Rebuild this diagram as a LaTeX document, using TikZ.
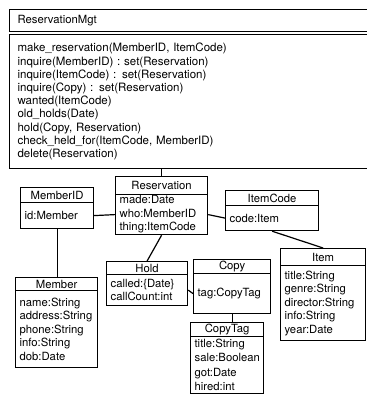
\documentclass[tikz,border=0pt]{standalone}
\usepackage{fontspec}
\setmainfont{TeX Gyre Heros}
\usetikzlibrary{positioning}

\begin{document}
\begin{tikzpicture}[x=1pt, y=-1pt,
    hd/.style={draw, line width=1.2pt, anchor=north west, inner ysep=0pt, inner xsep=0pt,
        font=\fontsize{11.3}{12}\selectfont},
    bd/.style={draw, line width=1.2pt, anchor=north west, inner ysep=0pt, inner xsep=4pt,
        align=left, font=\fontsize{11.3}{13.5}\selectfont},
    link/.style={line width=1.2pt}]

\useasboundingbox (0,0) rectangle (366,395);

% Interface class at the top
\node[hd, inner xsep=8pt, text width=343pt, align=left, minimum height=22pt] (mgtH) at (9,9) {ReservationMgt};
\node[bd, inner xsep=8pt, text width=343pt, minimum height=134pt, font=\fontsize{11.5}{13.2}\selectfont] (mgt) at (9,34) {
    make\_reservation(MemberID, ItemCode)\\
    inquire(MemberID) : set(Reservation)\\
    inquire(ItemCode) : set(Reservation)\\
    inquire(Copy) : set(Reservation)\\
    wanted(ItemCode)\\
    old\_holds(Date)\\
    hold(Copy, Reservation)\\
    check\_held\_for(ItemCode, MemberID)\\
    delete(Reservation)
};

% Classes
\node[hd, minimum width=73pt, minimum height=15pt] (midH) at (20,187) {MemberID};
\node[bd, text width=65pt, minimum height=26pt] (mid) at (20,202) {id:Member};

\node[hd, minimum width=92pt, minimum height=18pt] (resH) at (115,176) {Reservation};
\node[bd, text width=84pt, minimum height=40pt] (res) at (115,194) {made:Date\\who:MemberID\\thing:ItemCode};

\node[hd, minimum width=93pt, minimum height=15pt] (codeH) at (225,190) {ItemCode};
\node[bd, text width=85pt, minimum height=25pt] (code) at (225,205) {code:Item};

\node[hd, minimum width=82pt, minimum height=13pt] (memH) at (15,277) {Member};
\node[bd, text width=74pt, minimum height=77pt] (mem) at (15,290) {name:String\\address:String\\phone:String\\info:String\\dob:Date};

\node[hd, minimum width=81pt, minimum height=13pt] (holdH) at (106,261) {Hold};
\node[bd, text width=73pt, minimum height=31pt] (hold) at (106,274) {called:\{Date\}\\callCount:int};

\node[hd, minimum width=77pt, minimum height=14pt] (copyH) at (193,259) {Copy};
\node[bd, text width=69pt, minimum height=40pt] (copy) at (193,273) {tag:CopyTag};

\node[hd, minimum width=73pt, minimum height=14pt] (tagH) at (190,322) {CopyTag};
\node[bd, text width=65pt, minimum height=57pt, font=\fontsize{11.3}{14.5}\selectfont] (tag) at (190,336) {title:String\\sale:Boolean\\got:Date\\hired:int};

\node[hd, minimum width=85pt, minimum height=17pt] (itemH) at (280,248) {Item};
\node[bd, text width=77pt, minimum height=75pt] (item) at (280,265) {title:String\\genre:String\\director:String\\info:String\\year:Date};

% Associations
\draw[link] (resH.north) -- (resH.north |- mgt.south);
\draw[link] (mid.east) -- (res.west);
\draw[link] (mid.south) -- (mid.south |- memH.north);
\draw[link] (res.south) -- (holdH.north);
\draw[link] (hold.east) -- (copy.west);
\draw[link] (copy.south) -- (copy.south |- tagH.north);
\draw[link] (res.east) -- (code.west);
\draw[link] (code.south) -- (itemH.north);

\end{tikzpicture}
\end{document}
